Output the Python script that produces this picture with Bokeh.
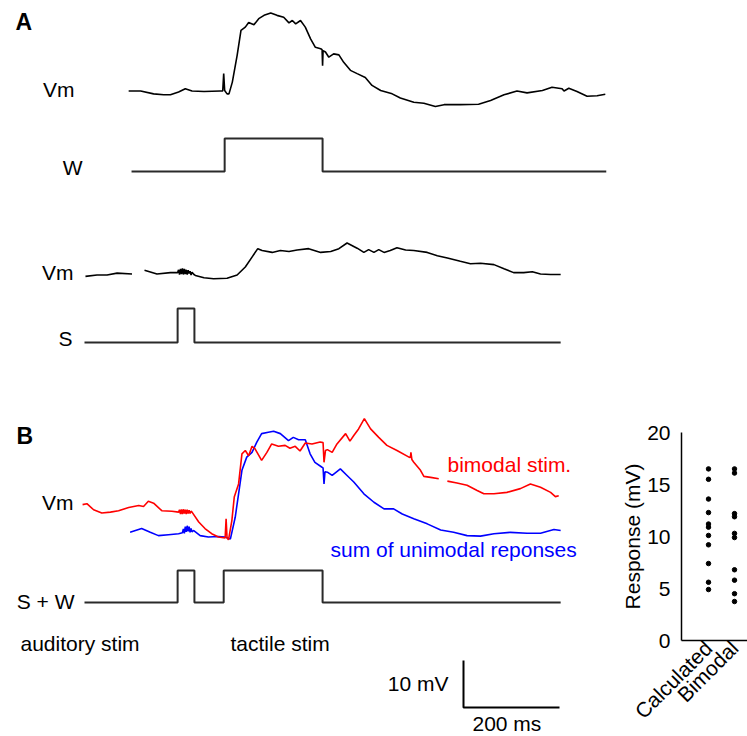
import math
import numpy as np
from bokeh.plotting import figure
from bokeh.layouts import row
from bokeh.models import Range1d, FixedTicker
from bokeh.embed import file_html
from bokeh.resources import INLINE
from bokeh.core.properties import value

nan = float("nan")

# ---------------- DATA ----------------
# Panel A, whisker-only trial: time (ms), Vm change (mV)
a_w_t = [92, 117, 144, 165, 179, 196, 210, 224, 249, 283, 288, 290, 292, 297, 301, 308, 318, 326,
         335, 342, 353, 363, 374, 388, 401, 415, 426, 433, 440, 450, 460, 471, 481, 492, 495, 496,
         497, 502, 509, 519, 530, 540, 554, 568, 585, 599, 617, 641, 658, 686, 707, 731, 749, 783,
         821, 846, 874, 901, 922, 954, 974, 995, 999, 1009, 1026, 1047, 1068, 1085]
a_w_vm = [0.1, 0.1, -0.5, -0.7, -0.7, -0.1, 0.6, 0.1, 0.0, 0.1, 0.1, 3.8, 0.2, -0.5, -0.5, 2.0, 7.7, 13.0,
          13.7, 14.7, 14.2, 15.5, 16.2, 16.7, 16.2, 15.8, 14.6, 15.1, 14.4, 15.1, 13.7, 11.2, 9.4, 9.1, 8.9, 5.5,
          8.7, 8.4, 7.3, 8.0, 7.8, 6.2, 4.5, 3.8, 3.0, 1.3, 0.2, -0.5, -1.4, -2.3, -2.5, -3.2, -2.8, -2.8,
          -2.7, -1.9, -0.7, 0.1, -0.3, 0.2, 0.9, 0.6, 0.1, 0.7, 0.0, -1.0, -0.9, -0.6]

# Panel A, sound-only trial
a_s_t = [2, 26, 47, 68, 99, nan, 125, 151, 179, 194, 196, 198, 200, 202, 204, 206, 208, 210, 212, 214,
         216, 218, 220, 222, 224, 228, 231, 249, 269, 297, 318, 335, 349, 361, 370, 391, 408, 426,
         443, 467, 492, 513, 530, 547, 568, 582, 592, 603, 613, 624, 637, 651, 669, 686, 714, 735,
         756, 783, 804, 825, 853, 874, 894, 915, 933, 950, 971, 992]
a_s_vm = [-0.4, -0.1, -0.1, 0.3, 0.1, nan, 0.9, 0.1, 0.4, 0.4, 1.0, 0.0, 1.2, 0.1, 1.3, 0.0, 1.2, 0.1, 1.0, 0.0,
          0.9, 0.2, 0.7, -0.1, 0.5, 0.0, -0.2, -0.7, -0.9, -0.8, -0.1, 1.6, 3.7, 5.5, 5.1, 4.7, 5.1, 4.9,
          5.2, 5.5, 4.7, 4.9, 5.5, 6.7, 5.6, 4.7, 5.3, 4.7, 5.3, 4.7, 5.1, 5.7, 5.2, 5.1, 4.7, 4.0,
          3.5, 2.8, 2.3, 2.4, 2.1, 1.2, 0.4, 0.4, 0.6, 0.1, 0.0, 0.0]

# Panel B, bimodal stimulation (red)
b_bi_t = [-4, 5, 19, 36, 54, 71, 92, 113, 123, 133, 144, 161, 182, 196, 198, 200, 202, 204, 206, 208,
          210, 212, 214, 216, 218, 220, 222, 224, 238, 251, 265, 279, 293, 295, 297, 300, 307, 312,
          321, 328, 335, 342, 349, 355, 369, 380, 390, 404, 418, 428, 439, 449, 460, 474, 491, 497,
          499, 502, 506, 516, 526, 544, 553, 561, 571, 583, 596, 613, 630, 651, 676, 679, 680, 682,
          686, 700, 707, 721, 738, nan, 756, 776, 797, 818, 832, 853, 880, 908, 929, 950, 971, 981, 988]
b_bi_vm = [7.0, 7.2, 5.9, 5.2, 5.4, 5.7, 6.4, 6.8, 6.6, 7.7, 7.3, 5.7, 5.6, 5.4, 5.9, 5.0, 6.0, 5.0, 6.0, 5.1,
           5.9, 5.0, 5.9, 5.1, 5.8, 5.1, 5.6, 5.4, 3.3, 1.9, 0.8, 0.1, -0.1, 4.0, -0.1, -0.5, 3.6, 8.6,
           11.4, 17.8, 18.5, 17.4, 19.4, 18.9, 16.4, 18.1, 19.9, 19.4, 19.6, 19.0, 19.4, 18.4, 20.1, 19.9, 20.3, 20.2,
           16.0, 18.5, 18.7, 18.1, 19.9, 22.1, 20.5, 21.7, 23.1, 25.3, 23.1, 21.3, 19.6, 18.5, 17.1, 17.0, 18.1, 16.6,
           16.0, 14.3, 13.0, 12.8, 12.5, nan, 12.0, 11.6, 11.1, 10.0, 9.3, 9.3, 9.6, 10.4, 11.4, 10.7, 9.6, 8.7, 8.9]

# Panel B, sum of unimodal responses (blue)
b_sum_t = [95, 119, 137, 154, 175, 196, 204, 206, 208, 210, 212, 214, 216, 218, 220, 222, 224, 227, 241,
           258, 279, 293, 304, 314, 321, 328, 338, 349, 359, 369, 383, 394, 408, 425, 435, 446, 460,
           470, 480, 494, 497, 499, 501, 506, 516, 533, 547, 561, 582, 603, 624, 644, 662, 686, 714,
           742, 769, 797, 825, 853, 887, 922, 950, 978, 992]
b_sum_vm = [1.1, 1.9, 1.1, 0.4, 0.6, 0.8, 1.0, 1.8, 0.9, 2.3, 1.2, 2.5, 1.3, 2.3, 1.1, 1.9, 1.2, 1.5, 0.4,
            0.1, 0.2, 0.1, -0.3, 4.3, 9.3, 14.3, 17.1, 18.1, 20.3, 22.1, 22.4, 22.6, 22.1, 20.6, 21.3, 20.8, 20.8,
            17.8, 16.0, 15.0, 14.8, 11.4, 14.0, 13.9, 13.2, 14.6, 13.2, 11.8, 9.3, 7.5, 6.1, 6.1, 5.0, 4.0, 2.9,
            1.6, 1.1, 0.4, 0.3, 0.8, 1.1, 0.9, 0.9, 1.7, 1.5]

# Stimulus timing (ms)
w_on, w_off = 292, 496
s_on, s_off = 194, 229
a_w_span = (98, 1087)
stim_span = (0, 992)

# Scale bar
scale_mv = 10
scale_ms = 200

# Response summary
categories = ["Calculated", "Bimodal"]
calculated = [16.5, 15.5, 13.6, 12.3, 11.2, 10.9, 10.1, 9.2, 7.4, 5.6, 4.9]
bimodal = [16.5, 16.1, 12.2, 11.9, 10.3, 9.9, 6.8, 5.8, 4.5, 3.75]
resp_ticks = [0, 5, 10, 15, 20]

# ---------------- LAYOUT ----------------
MS_PER_PX = 200 / 96
PX_PER_MV = 4.7
W_MAIN, H = 610, 736
FONT = value("Liberation Sans")
FS = value("21px")
TXT_DY = 8  # baseline correction (px)


def px2x(px):
    return (px - 84) * MS_PER_PX


def px2y(py):
    return (H - py) / PX_PER_MV


def tby(py):
    return px2y(py - TXT_DY)


p = figure(width=W_MAIN, height=H, x_range=Range1d(px2x(0), px2x(W_MAIN)),
           y_range=Range1d(px2y(H), px2y(0)), x_axis_type=None, y_axis_type=None,
           output_backend="svg", toolbar_location=None, min_border=0)
p.frame_align = False
p.grid.visible = False
p.outline_line_color = None

TRACE_W = 1.6
STEP_W = 2
STEP_C = "#2a2a2a"


def step(spans, intervals, base, height):
    xs, ys = [spans[0]], [base]
    for on, off in intervals:
        xs += [on, on, off, off]
        ys += [base, base + height, base + height, base]
    xs.append(spans[1])
    ys.append(base)
    return xs, ys


# Panel A
off = px2y(91)
p.line(a_w_t, np.array(a_w_vm) + off, color="black", line_width=TRACE_W)
xs, ys = step(a_w_span, [(w_on, w_off)], px2y(171), 33 / PX_PER_MV)
p.line(xs, ys, color=STEP_C, line_width=STEP_W)

off = px2y(274)
p.line(a_s_t, np.array(a_s_vm) + off, color="black", line_width=TRACE_W)
xs, ys = step(stim_span, [(s_on, s_off)], px2y(342), 34 / PX_PER_MV)
p.line(xs, ys, color=STEP_C, line_width=STEP_W)

# Panel B
off = px2y(537)
p.line(b_sum_t, np.array(b_sum_vm) + off, color="#0000ff", line_width=TRACE_W)
p.line(b_bi_t, np.array(b_bi_vm) + off, color="#ff0000", line_width=TRACE_W)
xs, ys = step(stim_span, [(s_on, s_off), (w_on - 2, w_off)], px2y(602), 32 / PX_PER_MV)
p.line(xs, ys, color=STEP_C, line_width=STEP_W)

# Scale bar
x0, y0 = px2x(463), px2y(707)
p.line([x0, x0, x0 + scale_ms], [y0 + scale_mv, y0, y0], color="black", line_width=2)

# Right-aligned labels
p.text(x=[px2x(74), px2x(82), px2x(73), px2x(72), px2x(73), px2x(74), px2x(448)],
       y=[tby(97), tby(175), tby(280), tby(346), tby(510), tby(609), tby(691)],
       text=["Vm", "W", "Vm", "S", "Vm", "S + W", f"{scale_mv} mV"],
       text_font=FONT, text_font_size=FS, text_align="right", text_baseline="alphabetic",
       text_color="black")
# Left-aligned labels
p.text(x=[px2x(20), px2x(230), px2x(472)],
       y=[tby(651), tby(651), tby(731)],
       text=["auditory stim", "tactile stim", f"{scale_ms} ms"],
       text_font=FONT, text_font_size=FS, text_align="left", text_baseline="alphabetic",
       text_color="black")
p.text(x=[px2x(447)], y=[tby(472)], text=["bimodal stim."], text_font=FONT, text_font_size=FS,
       text_align="left", text_baseline="alphabetic", text_color="#ff0000")
p.text(x=[px2x(330)], y=[tby(557)], text=["sum of unimodal reponses"], text_font=FONT,
       text_font_size=FS, text_align="left", text_baseline="alphabetic", text_color="#0000ff")
# Panel letters
p.text(x=[px2x(15), px2x(16)], y=[tby(29), tby(443)], text=["A", "B"], text_font=FONT,
       text_font_size=value("23px"), text_font_style="bold", text_align="left",
       text_baseline="alphabetic", text_color="black")

# ---------------- Scatter panel ----------------
W_SC = 747 - W_MAIN
PX_PER_CAT = 26
X0 = -27 / PX_PER_CAT
q = figure(width=W_SC, height=H, x_range=Range1d(X0, 1 + 13 / PX_PER_CAT),
           y_range=Range1d(resp_ticks[0], resp_ticks[-1]),
           output_backend="svg", toolbar_location=None,
           min_border_left=681 - W_MAIN, min_border_right=0, min_border_top=432,
           min_border_bottom=H - 640)
q.frame_align = False
q.grid.visible = False
q.outline_line_color = None

q.scatter(x=[0] * len(calculated), y=calculated, size=4.5, color="black")
q.scatter(x=[1] * len(bimodal), y=bimodal, size=4.5, color="black")

for ax in (q.xaxis[0], q.yaxis[0]):
    ax.axis_line_color = "black"
    ax.axis_line_width = 1.5
    ax.major_tick_line_color = None
    ax.minor_tick_line_color = None
    ax.major_tick_out = 0
    ax.major_tick_in = 0
    ax.minor_tick_out = 0
    ax.major_label_text_font = "Liberation Sans"
    ax.major_label_text_font_size = "21px"
    ax.major_label_text_color = "black"

q.xaxis.ticker = FixedTicker(ticks=[0, 1])
q.xaxis.major_label_overrides = {0: categories[0], 1: categories[1]}
q.xaxis.major_label_orientation = math.pi / 4
q.xaxis.major_label_standoff = 4

q.yaxis.ticker = FixedTicker(ticks=resp_ticks)
q.yaxis.major_label_standoff = 11
q.yaxis.axis_label = "Response (mV)"
q.yaxis.axis_label_text_font = "Liberation Sans"
q.yaxis.axis_label_text_font_size = "21px"
q.yaxis.axis_label_text_font_style = "normal"
q.yaxis.axis_label_text_color = "black"
q.yaxis.axis_label_standoff = 0

layout = row(p, q, spacing=0)
open("out.html", "w").write(file_html(layout, INLINE))
